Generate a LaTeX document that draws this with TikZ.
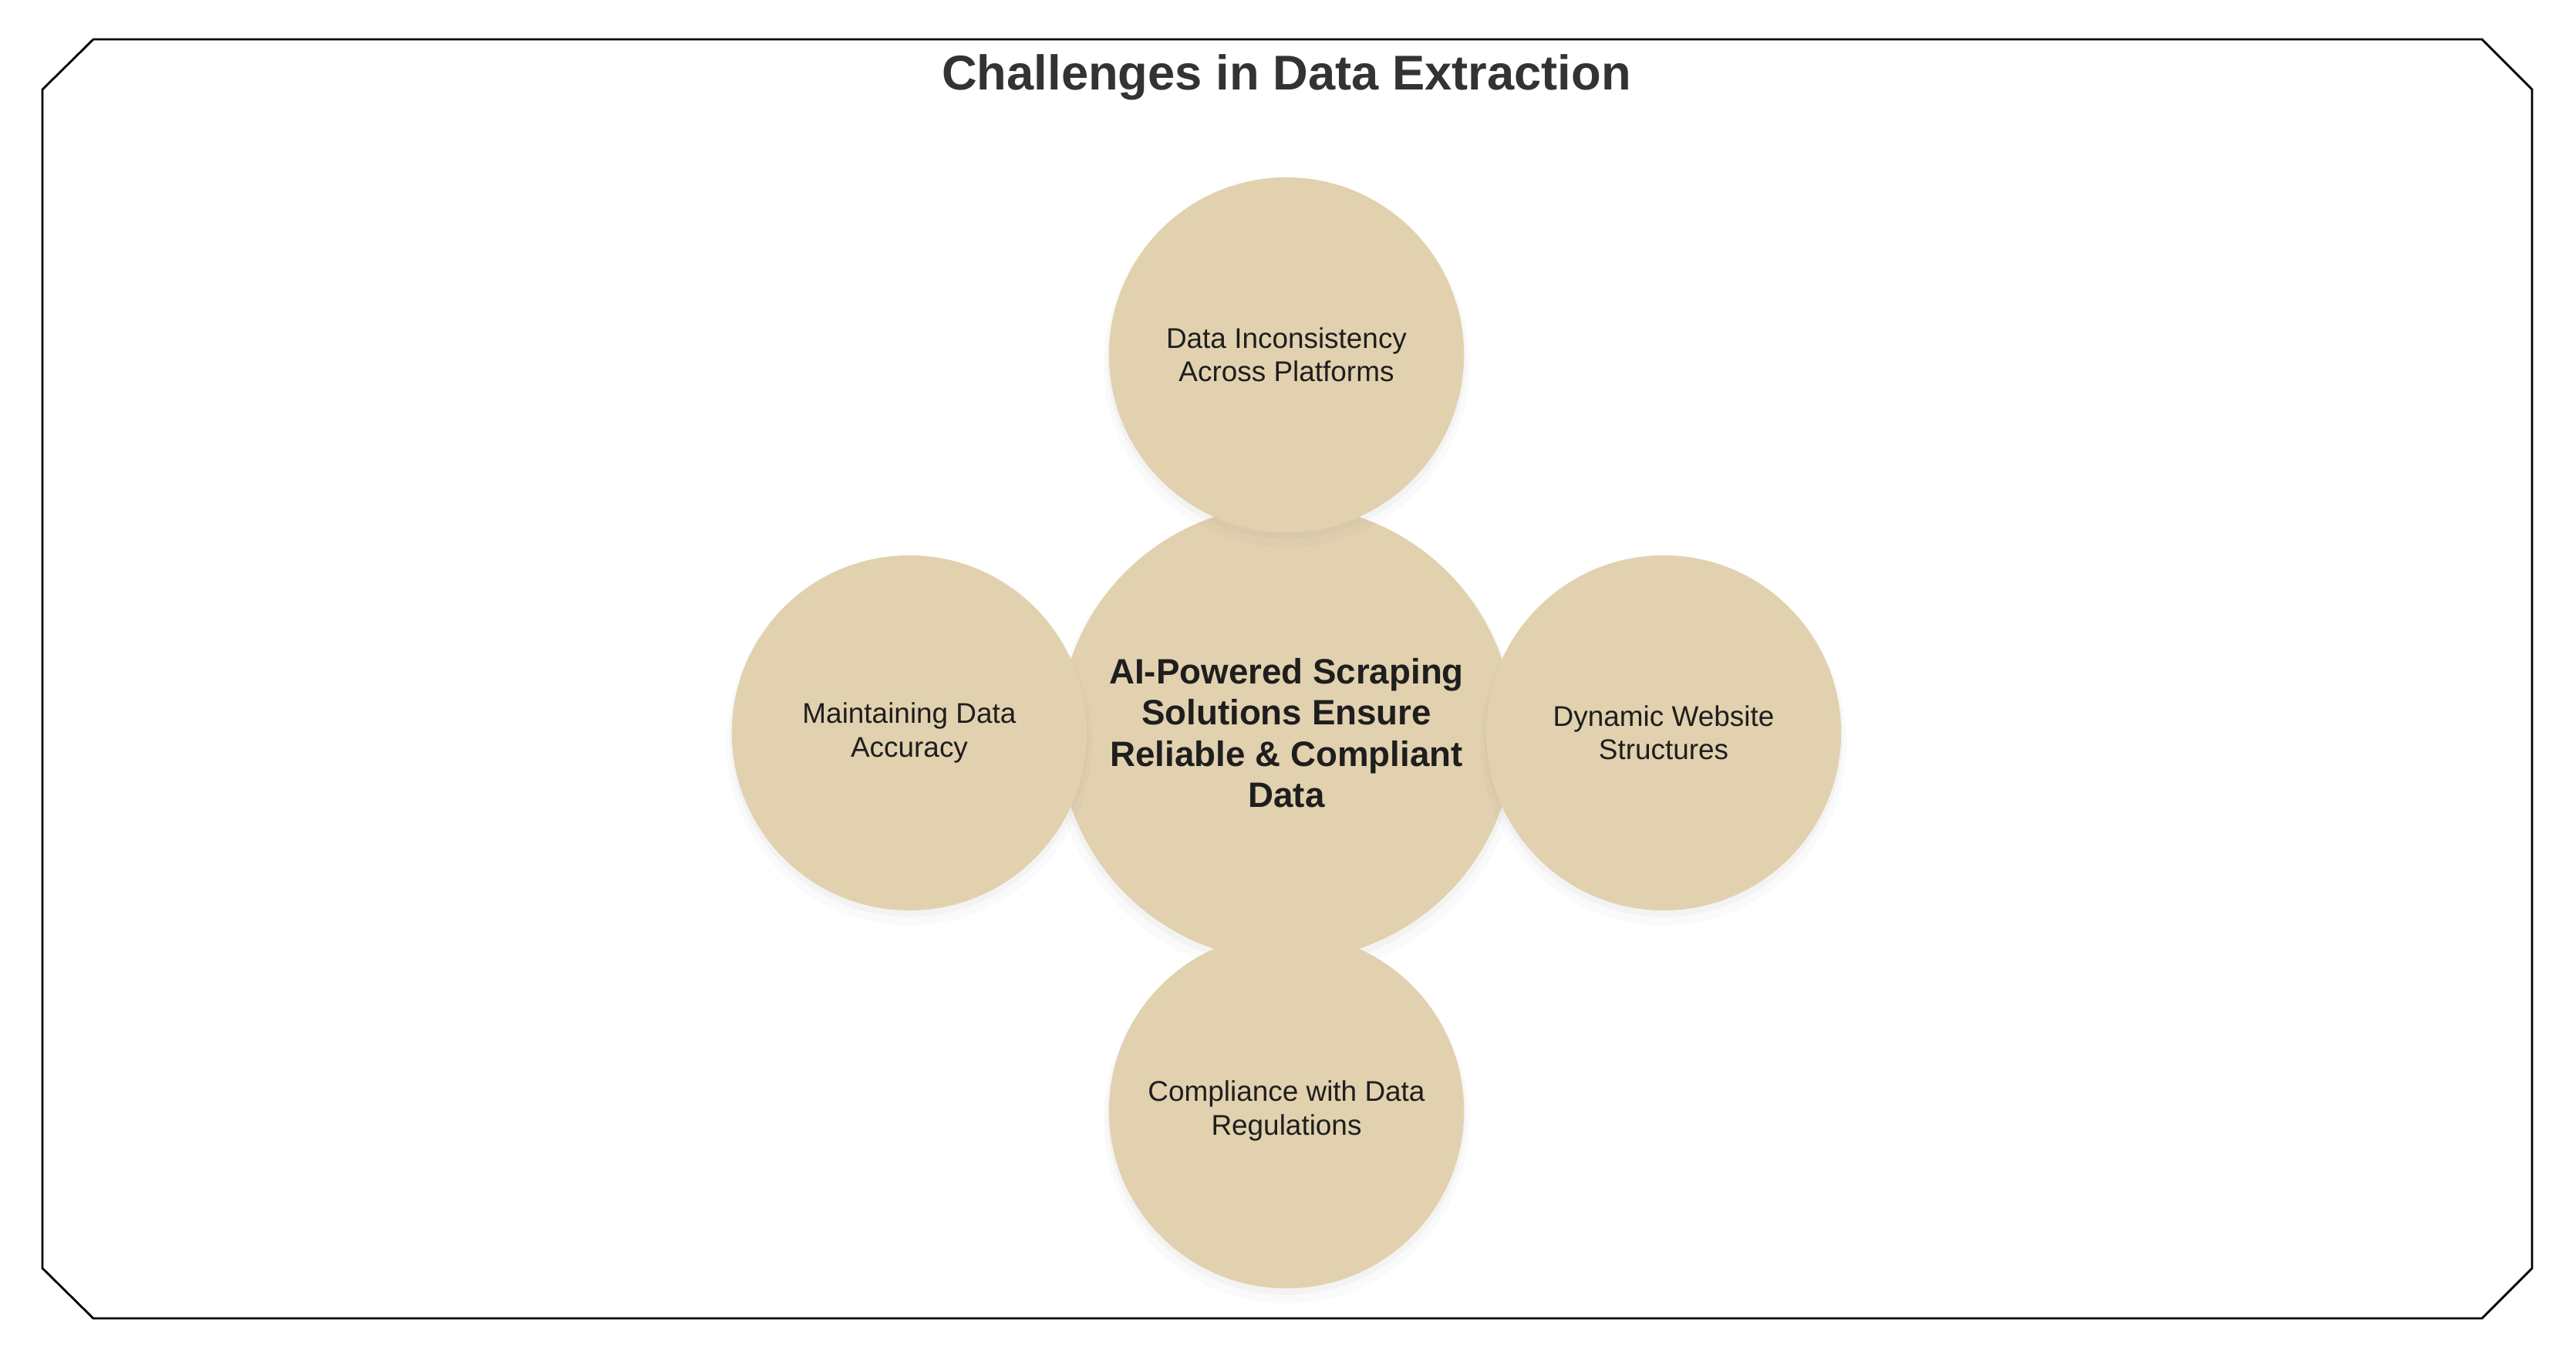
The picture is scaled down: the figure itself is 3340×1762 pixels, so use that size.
\documentclass[tikz,border=0pt]{standalone}
\usepackage{fontspec}
\setmainfont{Liberation Sans}
\usetikzlibrary{shadows}
\definecolor{sand}{HTML}{E2D1AF}
\definecolor{ink}{HTML}{1E1E1E}
\definecolor{heading}{HTML}{333333}

\begin{document}
\begin{tikzpicture}[x=0.01cm, y=-0.01cm,
  bubble/.style={circle, fill=sand, text=ink, align=center, inner sep=0pt,
    minimum size=4.6cm, font=\fontsize{10.5}{12.3}\selectfont,
    drop shadow={shadow xshift=0pt, shadow yshift=-0.12cm, shadow scale=1.03, opacity=0.04},
    drop shadow={shadow xshift=0pt, shadow yshift=-0.06cm, shadow scale=1.01, opacity=0.05}},
  hub/.style={bubble, minimum size=5.9cm, font=\fontsize{13}{15.2}\selectfont\bfseries}]

\useasboundingbox (0,0) rectangle (3340,1762);

%frame
\draw[line width=0.8pt, fill=white] (121,51) -- (3218,51) -- (3283,116)
  -- (3283,1644) -- (3218,1709) -- (121,1709) -- (55,1644) -- (55,116) -- cycle;

%title
\node[anchor=base, text=heading, font=\fontsize{18}{22}\selectfont\bfseries]
  (title) at (1668,116) {Challenges in Data Extraction};

%circles
\node[hub] (hub) at (1668,950)
  {AI-Powered Scraping\\Solutions Ensure\\Reliable \& Compliant\\Data};
\node[bubble] (accuracy) at (1179,950) {Maintaining Data\\Accuracy};
\node[bubble] (dynamic) at (2157,950) {Dynamic Website\\Structures};
\node[bubble] (compliance) at (1668,1440) {Compliance with Data\\Regulations};
\node[bubble] (inconsistency) at (1668,460) {Data Inconsistency\\Across Platforms};

\end{tikzpicture}
\end{document}
